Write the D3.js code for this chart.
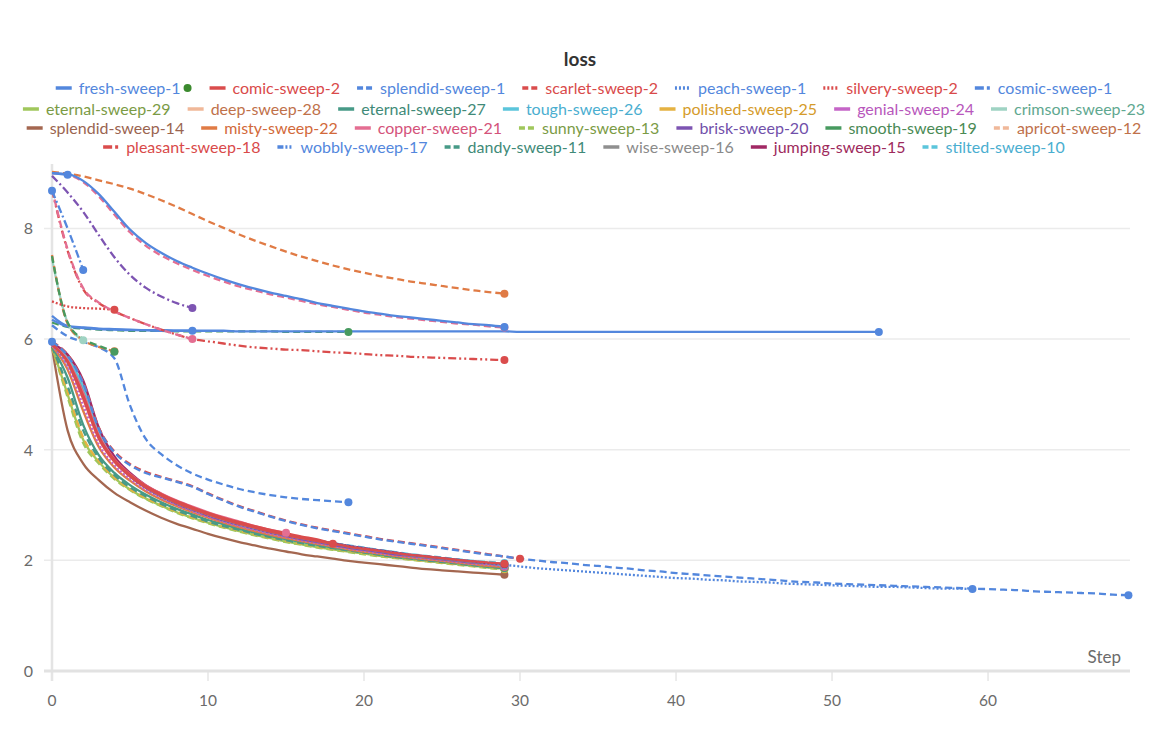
<!DOCTYPE html>
<html>
<head>
<meta charset="utf-8">
<script src="https://cdn.jsdelivr.net/npm/d3@7"></script>
<style>
    body { margin: 0; background: #fff; }
    text { font-family: "Source Sans Pro", Lato, "Noto Sans", sans-serif; }
</style>
</head>
<body>
<svg id="chart" width="1176" height="743"></svg>
<script>
// ---- data (index = step) ----
const yTicks = [0, 2, 4, 6, 8];
const xTicks = [0, 10, 20, 30, 40, 50, 60];

const legendRows = [
    ["fresh-sweep-1", "comic-sweep-2", "splendid-sweep-1", "scarlet-sweep-2", "peach-sweep-1", "silvery-sweep-2", "cosmic-sweep-1"],
    ["eternal-sweep-29", "deep-sweep-28", "eternal-sweep-27", "tough-sweep-26", "polished-sweep-25", "genial-sweep-24", "crimson-sweep-23"],
    ["splendid-sweep-14", "misty-sweep-22", "copper-sweep-21", "sunny-sweep-13", "brisk-sweep-20", "smooth-sweep-19", "apricot-sweep-12"],
    ["pleasant-sweep-18", "wobbly-sweep-17", "dandy-sweep-11", "wise-sweep-16", "jumping-sweep-15", "stilted-sweep-10"]
];

// upper group
const apricotLoss = [9.02,8.99,8.94,8.87,8.8,8.72,8.62,8.51,8.39,8.26,8.13,8.01,7.89,7.78,7.68,7.58,7.49,7.41,7.33,7.26,7.2,7.14,7.09,7.04,7.0,6.96,6.92,6.88,6.85,6.82];
const scarletUpperLoss = [9.0,8.97,8.84,8.58,8.25,7.93,7.69,7.51,7.37,7.25,7.14,7.04,6.95,6.88,6.81,6.75,6.69,6.63,6.58,6.53,6.48,6.44,6.4,6.37,6.34,6.31,6.28,6.26,6.23,6.21];
const freshUpperLoss = [9.0,8.98,8.86,8.62,8.3,7.98,7.74,7.56,7.41,7.29,7.18,7.08,6.99,6.91,6.84,6.78,6.72,6.65,6.6,6.55,6.5,6.46,6.42,6.39,6.36,6.33,6.3,6.27,6.25,6.22];
const freshShortLoss = [9.0,8.97];
const brisk9Loss = [8.95,8.65,8.3,7.88,7.48,7.16,6.93,6.77,6.65,6.56];
const cosmicLoss = [8.68,8.0,7.25];
const copper9Loss = [8.72,7.62,6.92,6.66,6.5,6.38,6.27,6.17,6.08,6.0];
const pleasantLoss = [8.7,7.6,6.9,6.65,6.5,6.38,6.27,6.17,6.08,6.0,5.96,5.92,5.88,5.85,5.83,5.81,5.8,5.78,5.76,5.75,5.73,5.71,5.7,5.68,5.67,5.66,5.65,5.64,5.63,5.62];
const silveryLoss = [6.68,6.59,6.56,6.55,6.53];
const smoothShortLoss = [7.5,6.3,6.0,5.88,5.77];
const sunnyShortLoss = [7.52,6.28,5.98,5.86,5.78];
const crimsonShortLoss = [7.45,6.3,5.98];
const freshFlatLoss = [6.42,6.24,6.21,6.19,6.18,6.17,6.16,6.16,6.15,6.15,
    6.15,6.15,6.14,6.14,6.14,6.14,6.14,6.14,6.14,6.14,
    6.14,6.14,6.14,6.14,6.14,6.14,6.14,6.14,6.14,6.14,
    6.13,6.13,6.13,6.13,6.13,6.13,6.13,6.13,6.13,6.13,
    6.13,6.13,6.13,6.13,6.13,6.13,6.13,6.13,6.13,6.13,
    6.13,6.13,6.13,6.13];
const cosmic9Loss = [6.35,6.23,6.2,6.18,6.17,6.16,6.16,6.15,6.15,6.15];
const dandy19Loss = [6.3,6.22,6.19,6.17,6.16,6.15,6.15,6.15,6.14,6.14,6.14,6.14,6.14,6.14,6.14,6.13,6.13,6.13,6.13,6.13];
const splendid19Loss = [6.25,6.05,5.95,5.85,5.65,4.8,4.2,3.92,3.72,3.57,3.46,3.37,3.29,3.23,3.18,3.14,3.11,3.09,3.07,3.05];
const startDotA = [8.68];
const startDotB = [5.95];

// long runs
const splendidLongLoss = [5.95,5.7,5.2,4.38,3.95,3.72,3.58,3.5,3.42,3.33,3.2,3.08,2.97,2.88,2.79,2.71,2.64,2.58,2.53,2.48,
    2.43,2.38,2.34,2.3,2.26,2.22,2.18,2.14,2.1,2.07,2.03,2.0,1.97,1.95,1.92,1.9,1.87,1.85,1.82,1.8,
    1.77,1.75,1.73,1.71,1.69,1.67,1.65,1.63,1.61,1.6,1.58,1.57,1.56,1.55,1.54,1.53,1.52,1.51,1.5,1.49,
    1.48,1.47,1.46,1.44,1.43,1.42,1.41,1.4,1.38,1.37];
const scarletLoss = [5.95,5.72,5.22,4.4,3.97,3.74,3.6,3.51,3.43,3.34,3.21,3.09,2.98,2.89,2.8,2.72,2.65,2.59,2.54,2.49,2.44,2.39,2.35,2.31,2.27,2.23,2.19,2.15,2.11,2.07,2.03];
const peachLoss = [5.9,5.55,4.95,4.22,3.8,3.54,3.34,3.18,3.05,2.94,2.84,2.75,2.67,2.6,2.53,2.47,2.41,2.36,2.31,2.26,
    2.22,2.18,2.14,2.1,2.07,2.04,2.01,1.98,1.95,1.92,1.89,1.86,1.84,1.82,1.8,1.78,1.76,1.74,1.72,1.7,
    1.68,1.67,1.65,1.64,1.62,1.61,1.6,1.58,1.57,1.56,1.55,1.54,1.53,1.52,1.52,1.51,1.5,1.49,1.49,1.48];

// lower bundle
const comicLoss = [5.9,5.58,4.92,4.2,3.78,3.52,3.32,3.17,3.04,2.93,2.83,2.74,2.66,2.59,2.52,2.46,2.4,2.35,2.3,2.25,2.21,2.17,2.13,2.1,2.07,2.04,2.01,1.98,1.96,1.94];
const jumpingLoss = [5.92,5.72,5.25,4.4,3.88,3.58,3.36,3.2,3.06,2.95,2.85,2.76,2.68,2.6,2.53,2.47,2.41,2.36,2.31,2.26,2.22,2.18,2.14,2.1,2.07,2.04,2.01,1.98,1.95,1.93];
const toughLoss = [5.9,5.65,5.15,4.35,3.84,3.55,3.34,3.18,3.05,2.94,2.84,2.75,2.67,2.6,2.53,2.47,2.41,2.36,2.31,2.26,2.22,2.18,2.14,2.1,2.07,2.04,2.01,1.98,1.95,1.92];
const briskLoss = [5.9,5.62,5.05,4.28,3.8,3.52,3.31,3.15,3.02,2.91,2.81,2.72,2.64,2.57,2.5,2.44,2.38,2.33,2.28,2.23,2.19,2.15,2.11,2.08,2.05,2.02,1.99,1.96,1.94,1.91];
const wiseLoss = [5.92,5.68,5.1,4.3,3.82,3.54,3.33,3.17,3.04,2.93,2.83,2.74,2.66,2.59,2.52,2.46,2.4,2.35,2.3,2.25,2.21,2.17,2.13,2.09,2.06,2.03,2.0,1.97,1.95,1.92];
const genialLoss = [5.88,5.5,4.8,4.1,3.72,3.47,3.28,3.13,3.0,2.89,2.79,2.7,2.62,2.55,2.48,2.42,2.36,2.31,2.26,2.21,2.17,2.13,2.09,2.06,2.03,2.0,1.97,1.94,1.92,1.89];
const mistyLoss = [5.88,5.45,4.7,4.05,3.68,3.44,3.25,3.1,2.98,2.87,2.77,2.68,2.6,2.53,2.46,2.4,2.35,2.3,2.25,2.2,2.16,2.12,2.08,2.05,2.02,1.99,1.96,1.93,1.9,1.88];
const eternal27Loss = [5.87,5.3,4.45,3.9,3.58,3.36,3.19,3.05,2.93,2.83,2.73,2.65,2.57,2.5,2.44,2.38,2.33,2.28,2.23,2.19,2.15,2.11,2.07,2.04,2.01,1.98,1.95,1.92,1.89,1.86];
const polishedLoss = [5.85,5.05,4.22,3.8,3.5,3.29,3.13,3.0,2.88,2.78,2.69,2.61,2.54,2.47,2.41,2.35,2.3,2.25,2.21,2.17,2.13,2.09,2.05,2.02,1.99,1.96,1.93,1.9,1.88,1.85];
const sunnyLoss = [5.85,4.95,4.12,3.75,3.47,3.27,3.11,2.98,2.86,2.76,2.67,2.59,2.52,2.45,2.39,2.33,2.28,2.23,2.19,2.15,2.11,2.07,2.04,2.01,1.98,1.95,1.92,1.89,1.86,1.84];
const eternal29Loss = [5.86,5.0,4.18,3.78,3.49,3.28,3.12,2.99,2.87,2.77,2.68,2.6,2.53,2.46,2.4,2.34,2.29,2.24,2.2,2.16,2.12,2.08,2.05,2.02,1.99,1.96,1.93,1.9,1.87,1.85];
const dandyLoss = [5.86,5.15,4.35,3.85,3.54,3.32,3.16,3.02,2.9,2.8,2.7,2.62,2.55,2.48,2.42,2.36,2.31,2.26,2.22,2.18,2.14,2.1,2.06,2.03,2.0,1.97,1.94,1.91,1.88,1.86];
const stiltedLoss = [5.9,5.6,5.0,4.25,3.8,3.53,3.33,3.17,3.04,2.93,2.83,2.74,2.66,2.59,2.52,2.46,2.41,2.36,2.31,2.27,2.23,2.19,2.15,2.11,2.08,2.05,2.02,1.99,1.97,1.95];
const pleasantShortLoss = [5.9,5.6,4.98,4.24,3.82,3.55,3.35,3.2,3.07,2.96,2.86,2.77,2.69,2.62,2.55,2.49,2.43,2.38,2.3];
const copperShortLoss = [5.9,5.62,5.02,4.26,3.83,3.56,3.36,3.21,3.08,2.97,2.87,2.78,2.7,2.62,2.55,2.5];
const splendid14Loss = [5.85,4.35,3.75,3.45,3.22,3.05,2.9,2.77,2.66,2.57,2.48,2.4,2.33,2.27,2.21,2.16,2.11,2.07,2.03,1.99,1.96,1.93,1.9,1.87,1.84,1.82,1.8,1.78,1.76,1.74];

// ---- styles ----
const palette = {
    blue: "#5387dd", red: "#da4c4c", yellowgreen: "#a0c75c", peach: "#f0b899",
    teal: "#479a87", lightblue: "#5bc5db", gold: "#e5b242", magenta: "#c565c7",
    mint: "#9fd3c3", brown: "#a46750", orange: "#e07b45", pink: "#e46e92",
    purple: "#7d54b2", green: "#479a5f", gray: "#8f8f8f", maroon: "#a12864"
};
const dashes = {
    solid: null, dashed: "7,4", dotted: "2,2", dashdot: "8,3,2,3", dashdotdot: "8,3,2,3,2,3"
};

const legendStyle = {
    "fresh-sweep-1": ["blue", "solid", "#5387dd"],
    "comic-sweep-2": ["red", "solid", "#d94a4a"],
    "splendid-sweep-1": ["blue", "dashed", "#5387dd"],
    "scarlet-sweep-2": ["red", "dashed", "#d94a4a"],
    "peach-sweep-1": ["blue", "dotted", "#5387dd"],
    "silvery-sweep-2": ["red", "dotted", "#d94a4a"],
    "cosmic-sweep-1": ["blue", "dashdot", "#5387dd"],
    "eternal-sweep-29": ["yellowgreen", "solid", "#7b9b45"],
    "deep-sweep-28": ["peach", "solid", "#c0714a"],
    "eternal-sweep-27": ["teal", "solid", "#3f8a78"],
    "tough-sweep-26": ["lightblue", "solid", "#4aaed0"],
    "polished-sweep-25": ["gold", "solid", "#d59b2a"],
    "genial-sweep-24": ["magenta", "solid", "#b857bc"],
    "crimson-sweep-23": ["mint", "solid", "#5fa890"],
    "splendid-sweep-14": ["brown", "solid", "#9a6450"],
    "misty-sweep-22": ["orange", "solid", "#d2693a"],
    "copper-sweep-21": ["pink", "solid", "#d4527a"],
    "sunny-sweep-13": ["yellowgreen", "dashed", "#7b9b45"],
    "brisk-sweep-20": ["purple", "solid", "#7150aa"],
    "smooth-sweep-19": ["green", "solid", "#4a8a55"],
    "apricot-sweep-12": ["peach", "dashed", "#c0714a"],
    "pleasant-sweep-18": ["red", "dashdot", "#d94a4a"],
    "wobbly-sweep-17": ["blue", "dashdotdot", "#5387dd"],
    "dandy-sweep-11": ["teal", "dashed", "#3f8a78"],
    "wise-sweep-16": ["gray", "solid", "#8a8a8a"],
    "jumping-sweep-15": ["maroon", "solid", "#9e2a5c"],
    "stilted-sweep-10": ["lightblue", "dashed", "#4aaed0"]
};

// every drawn line: [values, colour, dash]
const runs = [
    [splendid14Loss, "brown", "solid"],
    [sunnyLoss, "yellowgreen", "dashed"],
    [eternal29Loss, "yellowgreen", "solid"],
    [polishedLoss, "gold", "dashed"],
    [eternal27Loss, "teal", "solid"],
    [dandyLoss, "teal", "dashed"],
    [mistyLoss, "orange", "solid"],
    [genialLoss, "magenta", "dotted"],
    [briskLoss, "purple", "solid"],
    [wiseLoss, "gray", "solid"],
    [toughLoss, "lightblue", "solid"],
    [stiltedLoss, "lightblue", "dashed"],
    [jumpingLoss, "maroon", "solid"],
    [peachLoss, "blue", "dotted"],
    [copperShortLoss, "pink", "solid"],
    [pleasantShortLoss, "red", "solid"],
    [comicLoss, "red", "solid"],
    [scarletLoss, "red", "dashed"],
    [splendidLongLoss, "blue", "dashed"],
    [splendid19Loss, "blue", "dashed"],
    [dandy19Loss, "green", "dashed"],
    [cosmic9Loss, "blue", "solid"],
    [freshFlatLoss, "blue", "solid"],
    [crimsonShortLoss, "mint", "solid"],
    [sunnyShortLoss, "orange", "dashed"],
    [smoothShortLoss, "green", "dashed"],
    [silveryLoss, "red", "dotted"],
    [pleasantLoss, "red", "dashdotdot"],
    [copper9Loss, "pink", "dashed"],
    [cosmicLoss, "blue", "dashdot"],
    [brisk9Loss, "purple", "dashdot"],
    [apricotLoss, "orange", "dashed"],
    [scarletUpperLoss, "pink", "dashed"],
    [freshUpperLoss, "blue", "solid"],
    [freshShortLoss, "blue", "solid"],
    [startDotA, "blue", "solid"],
    [startDotB, "blue", "solid"]
];

// ---- drawing ----
const svg = d3.select("#chart");
const x = d3.scaleLinear().domain([0, 69.1]).range([52, 1130]);
const y = d3.scaleLinear().domain([0, 9.02]).range([671, 172]);

svg.append("text")
    .attr("x", 580).attr("y", 66)
    .attr("text-anchor", "middle")
    .attr("font-size", 19).attr("font-weight", 700)
    .attr("fill", "#333")
    .text("loss");

// legend
const legend = svg.append("g");
const rowY = [88, 109, 128, 147];
legendRows.forEach((row, ri) => {
    const g = legend.append("g");
    let cx = 0;
    row.forEach((name, i) => {
        const st = legendStyle[name];
        const item = g.append("g").attr("transform", `translate(${cx},0)`);
        item.append("line")
            .attr("x1", 0).attr("x2", 16).attr("y1", 0).attr("y2", 0)
            .attr("stroke", palette[st[0]]).attr("stroke-width", 3.5)
            .attr("stroke-dasharray", st[1] === "solid" ? null :
                st[1] === "dashed" ? "6,3" : st[1] === "dotted" ? "2,2" :
                st[1] === "dashdot" ? "9,3,3,3" : "6,2,2,2,2,2");
        const t = item.append("text")
            .attr("x", 23).attr("y", 5.5)
            .attr("font-size", 16).attr("fill", st[2])
            .text(name);
        let w = 23 + t.node().getComputedTextLength();
        if (ri === 0 && i === 0) {
            item.append("circle").attr("cx", w + 7).attr("cy", 0).attr("r", 4).attr("fill", "#3b8a2e");
            w += 12;
        }
        cx += w + 17;
    });
    const total = cx - 17;
    g.attr("transform", `translate(${584 - total / 2},${rowY[ri]})`);
});

// grid + axes
const grid = svg.append("g");
grid.selectAll("line.h")
    .data(yTicks.filter(d => d > 0))
    .enter().append("line")
    .attr("x1", 44).attr("x2", 1130)
    .attr("y1", d => y(d)).attr("y2", d => y(d))
    .attr("stroke", "#ebebeb").attr("stroke-width", 1.5);

grid.append("line")
    .attr("x1", 52).attr("x2", 52).attr("y1", 164).attr("y2", 681)
    .attr("stroke", "#e4e4e4").attr("stroke-width", 2.5);

grid.selectAll("line.xt")
    .data(xTicks)
    .enter().append("line")
    .attr("x1", d => x(d)).attr("x2", d => x(d))
    .attr("y1", 671).attr("y2", 681)
    .attr("stroke", "#e6e6e6").attr("stroke-width", 1.5);

grid.append("line")
    .attr("x1", 44).attr("x2", 1130).attr("y1", y(0)).attr("y2", y(0))
    .attr("stroke", "#e2e2e2").attr("stroke-width", 3);

svg.selectAll("text.ylab")
    .data(yTicks)
    .enter().append("text")
    .attr("x", 33).attr("y", d => y(d) + 6)
    .attr("text-anchor", "end")
    .attr("font-size", 16).attr("fill", "#6b6b6b")
    .text(d => d);

svg.selectAll("text.xlab")
    .data(xTicks)
    .enter().append("text")
    .attr("x", d => x(d)).attr("y", 706)
    .attr("text-anchor", "middle")
    .attr("font-size", 15.5).attr("fill", "#6b6b6b")
    .text(d => d);

svg.append("text")
    .attr("x", 1121).attr("y", 663)
    .attr("text-anchor", "end")
    .attr("font-size", 17).attr("fill", "#6b6b6b")
    .text("Step");

// lines
const line = d3.line()
    .x((d, i) => x(i))
    .y(d => y(d))
    .curve(d3.curveMonotoneX);

const plot = svg.append("g");
plot.selectAll("path.run")
    .data(runs)
    .enter().append("path")
    .attr("fill", "none")
    .attr("stroke", d => palette[d[1]])
    .attr("stroke-width", 2.3)
    .attr("stroke-dasharray", d => dashes[d[2]])
    .attr("d", d => line(d[0]));

plot.selectAll("circle.end")
    .data(runs)
    .enter().append("circle")
    .attr("cx", d => x(d[0].length - 1))
    .attr("cy", d => y(d[0][d[0].length - 1]))
    .attr("r", 4)
    .attr("fill", d => palette[d[1]]);
</script>
</body>
</html>
